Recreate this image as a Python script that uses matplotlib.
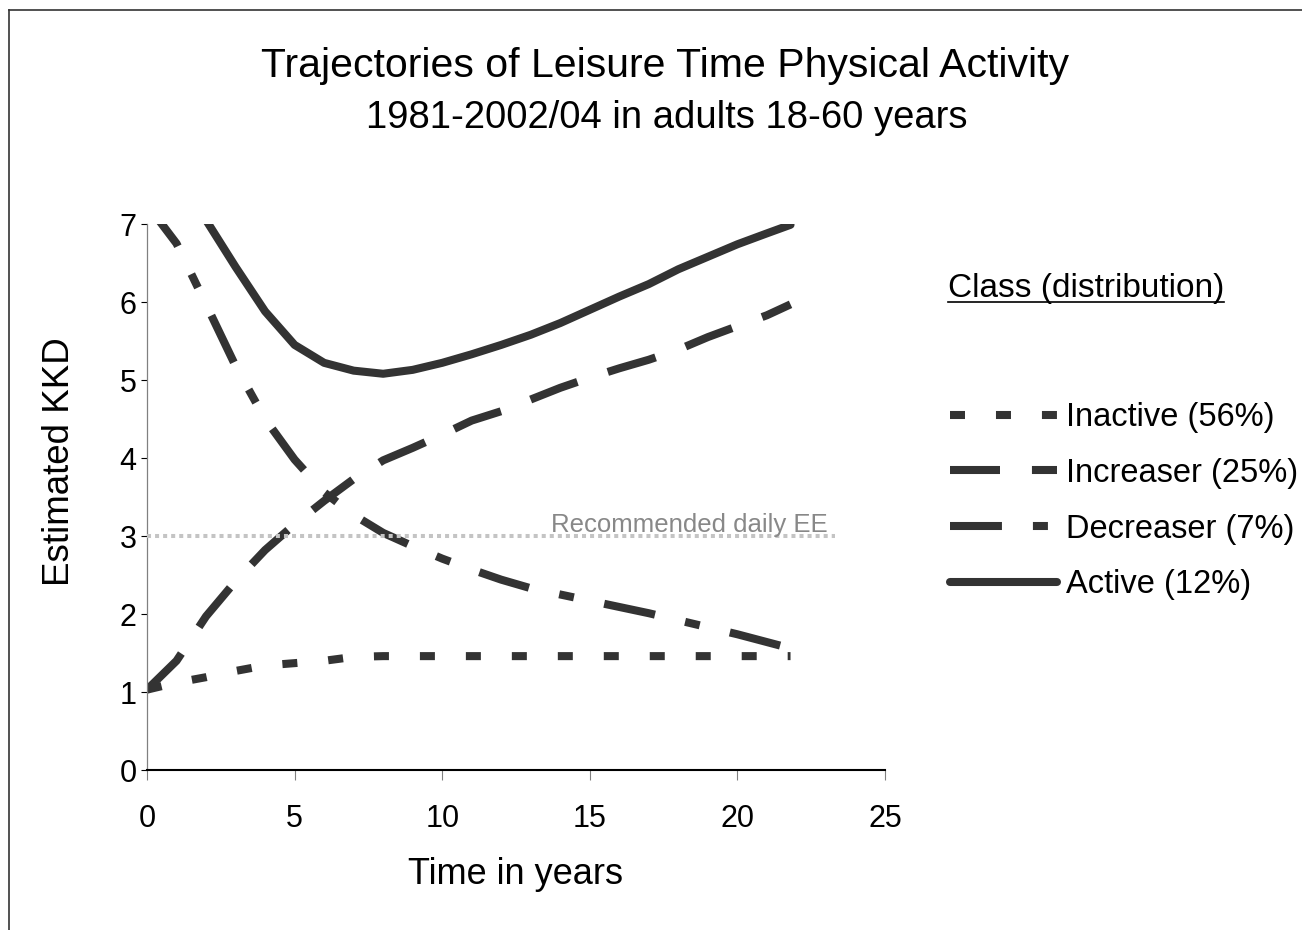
import matplotlib.pyplot as plt
from matplotlib.lines import Line2D

plt.rcParams['font.family'] = ['Liberation Sans', 'DejaVu Sans']
plt.rcParams['lines.scale_dashes'] = False

# data
years = [0, 1, 2, 3, 4, 5, 6, 7, 8, 9, 10, 11, 12, 13, 14, 15, 16, 17, 18, 19, 20, 21, 21.8]
inactive = [1.03, 1.12, 1.19, 1.27, 1.34, 1.37, 1.40, 1.45, 1.46, 1.46, 1.46, 1.46,
            1.46, 1.46, 1.46, 1.46, 1.46, 1.46, 1.46, 1.46, 1.46, 1.46, 1.46]
increaser = [1.03, 1.40, 1.97, 2.42, 2.82, 3.15, 3.45, 3.73, 3.97, 4.13, 4.30, 4.48,
             4.60, 4.75, 4.90, 5.03, 5.15, 5.26, 5.39, 5.55, 5.69, 5.83, 5.97]
decreaser = [7.25, 6.75, 5.97, 5.18, 4.50, 3.98, 3.56, 3.27, 3.04, 2.87, 2.71, 2.57,
             2.44, 2.33, 2.25, 2.17, 2.09, 2.01, 1.92, 1.83, 1.74, 1.64, 1.56]
active = [8.30, 7.65, 7.05, 6.45, 5.88, 5.45, 5.22, 5.12, 5.08, 5.13, 5.22, 5.33,
          5.45, 5.58, 5.73, 5.90, 6.07, 6.23, 6.42, 6.58, 6.74, 6.88, 6.99]
labels = ["Inactive (56%)", "Increaser (25%)", "Decreaser (7%)", "Active (12%)"]

rec_x = [0, 23.3]
rec_y = [3, 3]
rec_label = "Recommended daily EE"

x_ticks = [0, 5, 10, 15, 20, 25]
y_ticks = [0, 1, 2, 3, 4, 5, 6, 7]

title_1 = "Trajectories of Leisure Time Physical Activity"
title_2 = "1981-2002/04 in adults 18-60 years"

INK = "#333333"
LW = 5.8
W, H = 1302, 930

fig = plt.figure(figsize=(W / 100, H / 100), dpi=100)
ax = fig.add_axes([147 / W, 1 - 770 / H, 738 / W, 546 / H])

h1, = ax.plot(years, inactive, color=INK, lw=LW, dashes=(10.8, 22.3), label=labels[0])
h2, = ax.plot(years, increaser, color=INK, lw=LW, dashes=(36, 23), label=labels[1])
h3, = ax.plot(years, decreaser, color=INK, lw=LW, dashes=(37.4, 22.3, 10.8, 22.3), label=labels[2])
h4, = ax.plot(years, active, color=INK, lw=LW, solid_capstyle='round', label=labels[3])

ax.plot(rec_x, rec_y, color="#c4c4c4", lw=2.9, dashes=(2.9, 2.9), zorder=3, clip_on=False)
ax.text(23.07, 3.045, rec_label, ha='right', va='baseline', fontsize=18.5, color='#888888')

ax.set_xlim(0, 25)
ax.set_ylim(0, 7)
ax.set_xticks(x_ticks)
ax.set_yticks(y_ticks)
for s in ['top', 'right']:
    ax.spines[s].set_visible(False)
ax.spines['left'].set_color('#808080')
ax.spines['left'].set_linewidth(0.9)
ax.spines['bottom'].set_color('black')
ax.spines['bottom'].set_linewidth(1.5)
ax.tick_params(axis='x', direction='out', length=7.2, width=0.8, color='#808080', pad=17, labelsize=22)
ax.tick_params(axis='y', direction='out', length=4.5, width=0.8, color='black', pad=3, labelsize=22)

ax.set_xlabel("Time in years", fontsize=26, va='center')
ax.xaxis.set_label_coords(0.5, -0.192)
ax.set_ylabel("Estimated KKD", fontsize=26.5, va='center')
ax.yaxis.set_label_coords(-0.118, 0.564)

fig.text(665 / W, 1 - 77 / H, title_1, ha='center', va='baseline', fontsize=29.5)
fig.text(667 / W, 1 - 128 / H, title_2, ha='center', va='baseline', fontsize=27.5)

ax.legend(handles=[h1, h2, h3, h4], loc='upper left',
          bbox_to_anchor=(950 / W, 1 - 402 / H), bbox_transform=fig.transFigure,
          frameon=False, fontsize=23.5, handlelength=3.28, handletextpad=0.28,
          labelspacing=0.76, borderpad=0, borderaxespad=0)

# legend heading, underlined
head = fig.text(948 / W, 1 - 297 / H, "Class (distribution)", ha='left', va='baseline', fontsize=24)
fig.canvas.draw()
bb = head.get_window_extent()
uy = 1 - 302 / H
fig.add_artist(Line2D([bb.x0 / W, bb.x1 / W], [uy, uy], transform=fig.transFigure, color='black', lw=1.2))

# outer frame (only left and top edges show)
fig.add_artist(Line2D([8.5 / W, 8.5 / W], [0, 1 - 10 / H], transform=fig.transFigure, color=INK, lw=1.2))
fig.add_artist(Line2D([8.5 / W, 1], [1 - 10 / H, 1 - 10 / H], transform=fig.transFigure, color=INK, lw=1.2))

fig.savefig("out.png", dpi=100)
plt.close(fig)
